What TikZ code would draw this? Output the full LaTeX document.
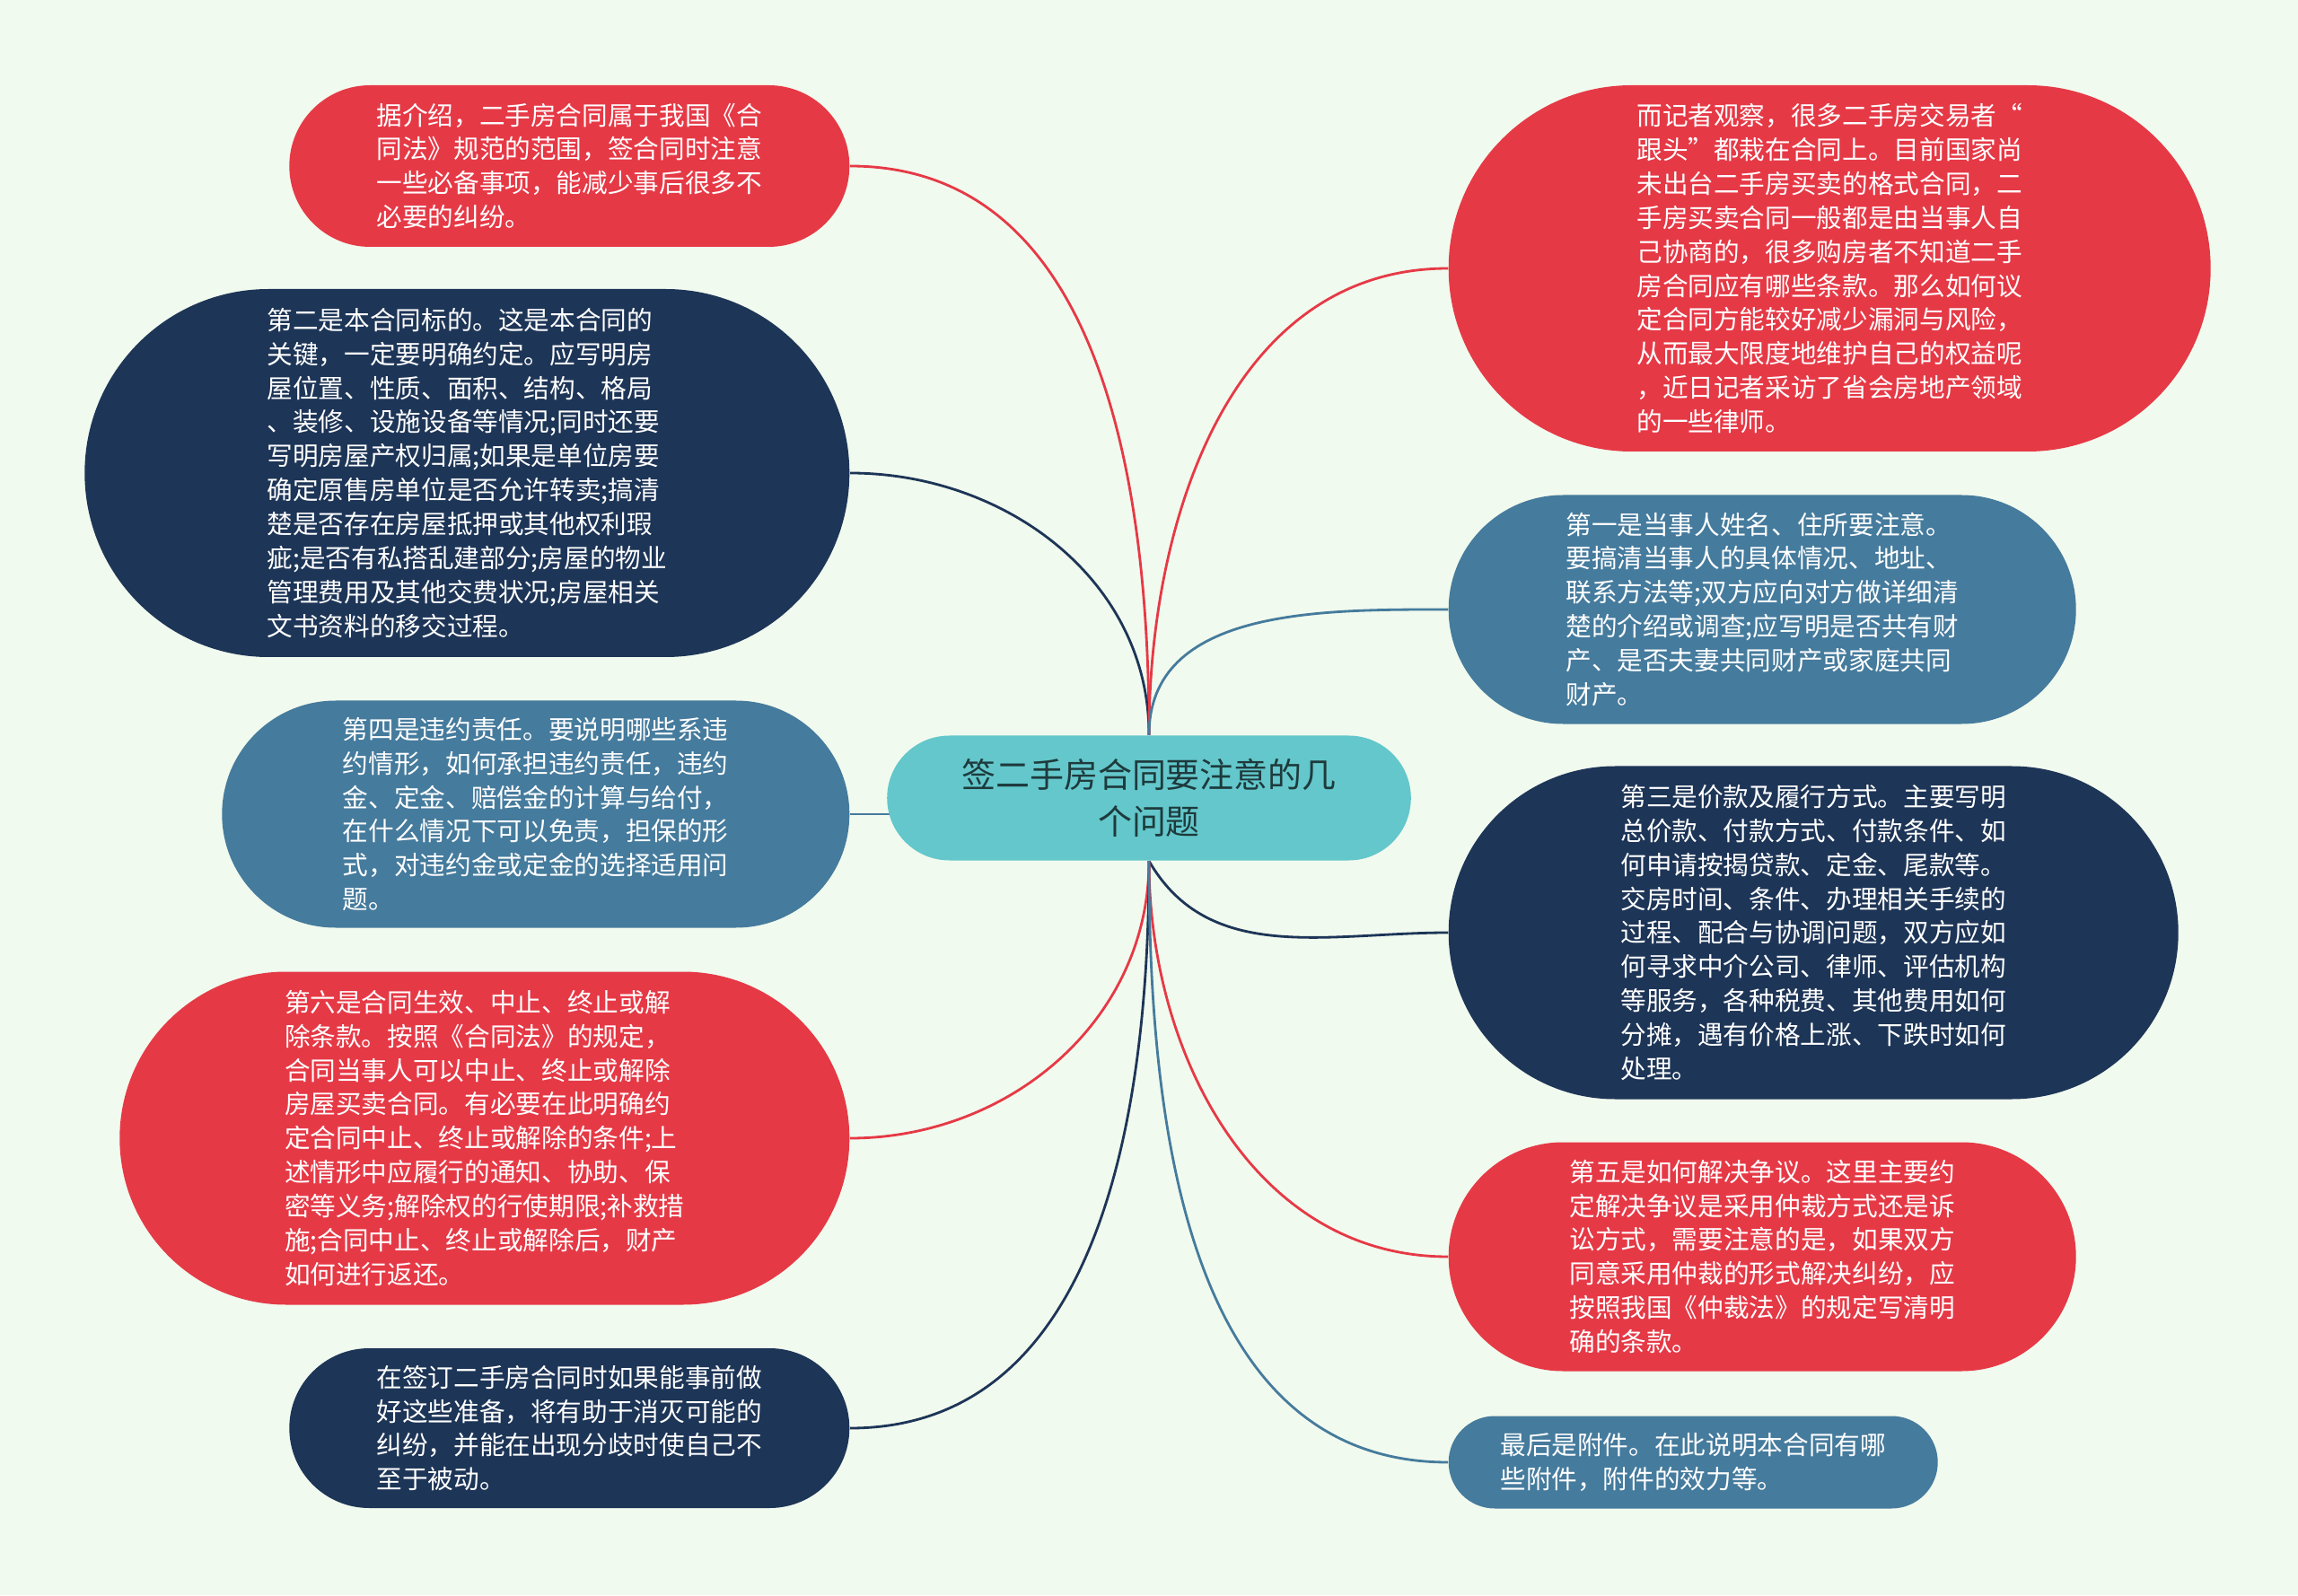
\documentclass[tikz,border=0pt]{standalone}
\usepackage{fontspec}
\newfontfamily\cjk{Noto Sans CJK SC}
\usetikzlibrary{shapes.misc}
\definecolor{paper}{HTML}{F1FAEE}
\definecolor{hubcol}{HTML}{63C7CB}
\definecolor{redcol}{HTML}{E63946}
\definecolor{navycol}{HTML}{1D3557}
\definecolor{steelcol}{HTML}{457B9D}
\definecolor{inkcol}{HTML}{1E3A3C}
\pgfdeclarelayer{paperlayer}
\pgfdeclarelayer{links}
\pgfsetlayers{paperlayer,links,main}

\begin{document}
\begin{tikzpicture}[
    leaf/.style={rounded rectangle, fill=#1, text=white, align=left,
                 inner sep=0pt, font=\cjk\fontsize{8.15}{10.8}\selectfont},
    link/.style={draw=#1, line width=0.8pt}
  ]
  \useasboundingbox (0,0) rectangle (25.6,17.77);
  \begin{pgfonlayer}{paperlayer}
    \fill[paper] (0,0) rectangle (25.6,17.77);
  \end{pgfonlayer}

  \node[rounded rectangle, fill=hubcol, text=inkcol, align=center,
        minimum width=6.07cm, minimum height=1.39cm,
        font=\cjk\fontsize{10.8}{14.8}\selectfont] (hub) at (12.80, 8.88)
    {签二手房合同要注意的几\\个问题};

  \node[leaf=redcol, minimum width=6.24cm, minimum height=1.80cm, anchor=east] (intro) at (9.47, 15.92)
    {据介绍，二手房合同属于我国《合\\同法》规范的范围，签合同时注意\\一些必备事项，能减少事后很多不\\必要的纠纷。};
  \node[leaf=navycol, minimum width=8.52cm, minimum height=4.10cm, anchor=east] (subject) at (9.47, 12.50)
    {第二是本合同标的。这是本合同的\\关键，一定要明确约定。应写明房\\屋位置、性质、面积、结构、格局\\、装修、设施设备等情况;同时还要\\写明房屋产权归属;如果是单位房要\\确定原售房单位是否允许转卖;搞清\\楚是否存在房屋抵押或其他权利瑕\\疵;是否有私搭乱建部分;房屋的物业\\管理费用及其他交费状况;房屋相关\\文书资料的移交过程。};
  \node[leaf=steelcol, minimum width=6.99cm, minimum height=2.53cm, anchor=east] (breach) at (9.47, 8.70)
    {第四是违约责任。要说明哪些系违\\约情形，如何承担违约责任，违约\\金、定金、赔偿金的计算与给付，\\在什么情况下可以免责，担保的形\\式，对违约金或定金的选择适用问\\题。};
  \node[leaf=redcol, minimum width=8.13cm, minimum height=3.71cm, anchor=east] (termination) at (9.47, 5.09)
    {第六是合同生效、中止、终止或解\\除条款。按照《合同法》的规定，\\合同当事人可以中止、终止或解除\\房屋买卖合同。有必要在此明确约\\定合同中止、终止或解除的条件;上\\述情形中应履行的通知、协助、保\\密等义务;解除权的行使期限;补救措\\施;合同中止、终止或解除后，财产\\如何进行返还。};
  \node[leaf=navycol, minimum width=6.24cm, minimum height=1.78cm, anchor=east] (prepare) at (9.47, 1.86)
    {在签订二手房合同时如果能事前做\\好这些准备，将有助于消灭可能的\\纠纷，并能在出现分歧时使自己不\\至于被动。};

  \node[leaf=redcol, minimum width=8.49cm, minimum height=4.08cm, anchor=west] (observe) at (16.13, 14.78)
    {而记者观察，很多二手房交易者“\\跟头”都栽在合同上。目前国家尚\\未出台二手房买卖的格式合同，二\\手房买卖合同一般都是由当事人自\\己协商的，很多购房者不知道二手\\房合同应有哪些条款。那么如何议\\定合同方能较好减少漏洞与风险，\\从而最大限度地维护自己的权益呢\\，近日记者采访了省会房地产领域\\的一些律师。};
  \node[leaf=steelcol, minimum width=6.99cm, minimum height=2.55cm, anchor=west] (parties) at (16.13, 10.98)
    {第一是当事人姓名、住所要注意。\\要搞清当事人的具体情况、地址、\\联系方法等;双方应向对方做详细清\\楚的介绍或调查;应写明是否共有财\\产、是否夫妻共同财产或家庭共同\\财产。};
  \node[leaf=navycol, minimum width=8.13cm, minimum height=3.71cm, anchor=west] (payment) at (16.13, 7.38)
    {第三是价款及履行方式。主要写明\\总价款、付款方式、付款条件、如\\何申请按揭贷款、定金、尾款等。\\交房时间、条件、办理相关手续的\\过程、配合与协调问题，双方应如\\何寻求中介公司、律师、评估机构\\等服务，各种税费、其他费用如何\\分摊，遇有价格上涨、下跌时如何\\处理。};
  \node[leaf=redcol, minimum width=6.99cm, minimum height=2.55cm, anchor=west] (dispute) at (16.13, 3.77)
    {第五是如何解决争议。这里主要约\\定解决争议是采用仲裁方式还是诉\\讼方式，需要注意的是，如果双方\\同意采用仲裁的形式解决纠纷，应\\按照我国《仲裁法》的规定写清明\\确的条款。};
  \node[leaf=steelcol, minimum width=5.45cm, minimum height=1.03cm, anchor=west] (annex) at (16.13, 1.48)
    {最后是附件。在此说明本合同有哪\\些附件，附件的效力等。};

  \begin{pgfonlayer}{links}
    \draw[link=redcol] (hub.north) to[out=90, in=0] (intro.east);
    \draw[link=navycol] (hub.north) to[out=90, in=0] (subject.east);
    \draw[link=steelcol] (breach.east) -- (breach.east -| hub.center);
    \draw[link=redcol] (hub.south) to[out=-90, in=0] (termination.east);
    \draw[link=navycol] (hub.south) to[out=-90, in=0] (prepare.east);
    \draw[link=redcol] (hub.north) to[out=90, in=180] (observe.west);
    \draw[link=steelcol] (hub.north) to[out=90, in=180] (parties.west);
    \draw[link=navycol] (hub.south) to[out=-60, in=180] (payment.west);
    \draw[link=redcol] (hub.south) to[out=-90, in=180] (dispute.west);
    \draw[link=steelcol] (hub.south) to[out=-90, in=180] (annex.west);
  \end{pgfonlayer}
\end{tikzpicture}
\end{document}
